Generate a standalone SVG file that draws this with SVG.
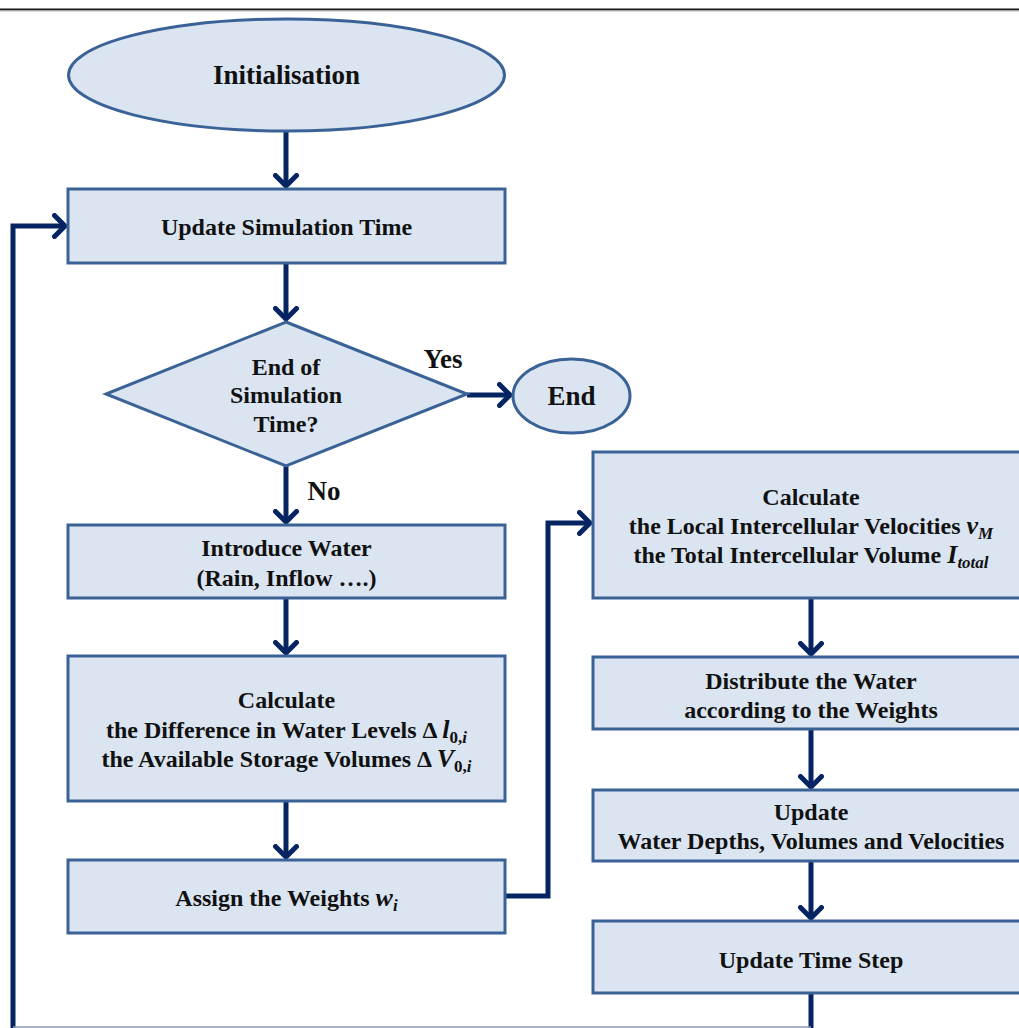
<svg xmlns="http://www.w3.org/2000/svg" width="1019" height="1028" viewBox="0 0 1019 1028">
  <defs>
    <style>
      .node { fill: #dbe5f1; stroke: #3b6297; stroke-width: 3; }
      .lbl { font-family: "Liberation Serif", "Times New Roman", serif; font-weight: bold; font-size: 24px; fill: #111; text-anchor: middle; }
      .big { font-size: 27px; }
      .m { font-style: italic; font-size: 26px; }
      .sub { font-size: 17px; }
      .flow { fill: none; stroke: #062462; stroke-width: 5; stroke-linejoin: miter; }
    </style>
    <marker id="arrow" viewBox="0 0 16 26" refX="13" refY="13" markerWidth="16" markerHeight="26" markerUnits="userSpaceOnUse" orient="auto">
      <path d="M2.5,2.5 L13,13 L2.5,23.5" fill="none" stroke="#062462" stroke-width="5" stroke-linecap="round" stroke-linejoin="round"/>
    </marker>
  </defs>

  <rect x="0" y="0" width="1019" height="1028" fill="#ffffff"/>
  <!-- page rule along the top edge -->
  <line x1="0" y1="9.5" x2="1019" y2="9.5" stroke="#1a1a1a" stroke-width="2"/>
  <line x1="0" y1="11" x2="1019" y2="11" stroke="#b8b8b8" stroke-width="1"/>

  <!-- connectors -->
  <g id="connectors">
    <line class="flow" x1="286" y1="131" x2="286" y2="186" marker-end="url(#arrow)"/>
    <line class="flow" x1="286" y1="263" x2="286" y2="319" marker-end="url(#arrow)"/>
    <line class="flow" x1="467" y1="395" x2="510" y2="395" marker-end="url(#arrow)"/>
    <line class="flow" x1="286" y1="466" x2="286" y2="522" marker-end="url(#arrow)"/>
    <line class="flow" x1="286" y1="598" x2="286" y2="653" marker-end="url(#arrow)"/>
    <line class="flow" x1="286" y1="801" x2="286" y2="857" marker-end="url(#arrow)"/>
    <polyline class="flow" points="505,896 548,896 548,523 590,523" marker-end="url(#arrow)"/>
    <line class="flow" x1="811" y1="598" x2="811" y2="654" marker-end="url(#arrow)"/>
    <line class="flow" x1="811" y1="729" x2="811" y2="787" marker-end="url(#arrow)"/>
    <line class="flow" x1="811" y1="861" x2="811" y2="918" marker-end="url(#arrow)"/>
    <!-- loop back from the last step to the time update -->
    <polyline class="flow" points="811,993 811,1030"/>
    <polyline class="flow" points="13,1030 13,226 65,226" marker-end="url(#arrow)"/>
    <line x1="13" y1="1027" x2="811" y2="1027" stroke="#8d9bb8" stroke-width="1.5"/>
    <text class="lbl big" x="443" y="368">Yes</text>
    <text class="lbl big" x="324" y="500">No</text>
  </g>

  <g id="initialisation">
    <ellipse class="node" cx="286.5" cy="75" rx="218" ry="56"/>
    <text class="lbl big" x="286.5" y="84">Initialisation</text>
  </g>

  <g id="update-simulation-time">
    <rect class="node" x="68" y="189" width="437" height="74"/>
    <text class="lbl" x="286.5" y="235">Update Simulation Time</text>
  </g>

  <g id="end-check">
    <polygon class="node" points="286,322 467,394 286,466 106,394"/>
    <text class="lbl" x="286" y="375">End of</text>
    <text class="lbl" x="286" y="403">Simulation</text>
    <text class="lbl" x="286" y="432">Time?</text>
  </g>

  <g id="end">
    <ellipse class="node" cx="571.5" cy="396" rx="58.5" ry="37"/>
    <text class="lbl big" x="571.5" y="405">End</text>
  </g>

  <g id="introduce-water">
    <rect class="node" x="68" y="525" width="437" height="73"/>
    <text class="lbl" x="286.5" y="556">Introduce Water</text>
    <text class="lbl" x="286.5" y="586">(Rain, Inflow ….)</text>
  </g>

  <g id="calculate-levels">
    <rect class="node" x="68" y="656" width="437" height="145"/>
    <text class="lbl" x="286.5" y="708">Calculate</text>
    <text class="lbl" x="286.5" y="738">the Difference in Water  Levels Δ <tspan class="m">l</tspan><tspan class="sub" dy="5">0,</tspan><tspan class="sub m">i</tspan></text>
    <text class="lbl" x="286.5" y="767">the Available Storage Volumes Δ <tspan class="m">V</tspan><tspan class="sub" dy="5">0,</tspan><tspan class="sub m">i</tspan></text>
  </g>

  <g id="assign-weights">
    <rect class="node" x="68" y="860" width="437" height="73"/>
    <text class="lbl" x="286.5" y="906">Assign the Weights <tspan class="m">w</tspan><tspan class="sub m" dy="5">i</tspan></text>
  </g>

  <g id="calculate-velocities">
    <rect class="node" x="593" y="452" width="440" height="146"/>
    <text class="lbl" x="811" y="505">Calculate</text>
    <text class="lbl" x="811" y="534">the Local Intercellular Velocities <tspan class="m">v</tspan><tspan class="sub m" dy="5">M</tspan></text>
    <text class="lbl" x="811" y="563">the Total Intercellular Volume <tspan class="m">I</tspan><tspan class="sub m" dy="5">total</tspan></text>
  </g>

  <g id="distribute-water">
    <rect class="node" x="593" y="657" width="440" height="72"/>
    <text class="lbl" x="811" y="689">Distribute the Water</text>
    <text class="lbl" x="811" y="718">according to the Weights</text>
  </g>

  <g id="update-state">
    <rect class="node" x="593" y="790" width="440" height="71"/>
    <text class="lbl" x="811" y="820">Update</text>
    <text class="lbl" x="811" y="849">Water  Depths, Volumes and Velocities</text>
  </g>

  <g id="update-time-step">
    <rect class="node" x="593" y="921" width="440" height="72"/>
    <text class="lbl" x="811" y="968">Update Time Step</text>
  </g>
</svg>
